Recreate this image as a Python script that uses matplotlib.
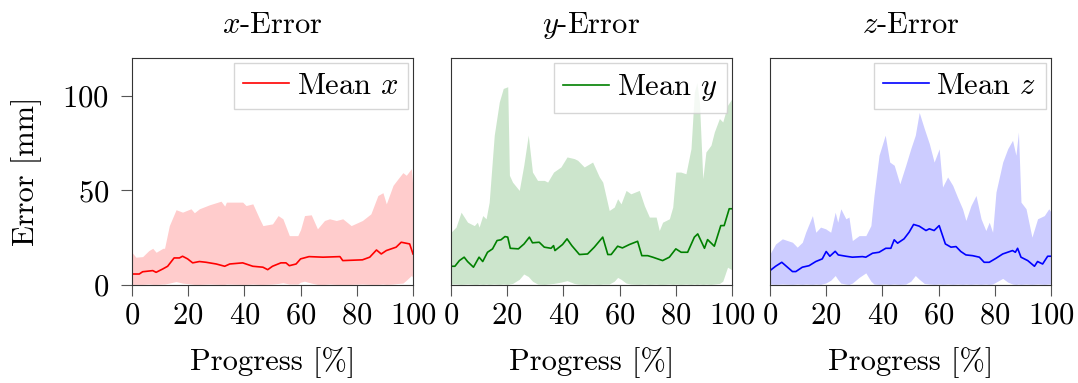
import numpy as np
import matplotlib
matplotlib.use("Agg")
import matplotlib.pyplot as plt

plt.rcParams['font.family'] = 'cmr10'
plt.rcParams['mathtext.fontset'] = 'cm'
plt.rcParams['axes.formatter.use_mathtext'] = True
plt.rcParams['axes.unicode_minus'] = False

# mean error per axis
mean_x_prog = [0, 2.6, 3.8, 7.4, 8.6, 11, 12.7, 15, 16.9, 18, 19.8, 21.6, 24, 26.4, 30, 33, 34.8, 39.4,
               43, 46.6, 48.3, 50, 53, 54.8, 56, 58.4, 60, 63, 68, 74, 75, 82, 84.6, 87, 88.7, 90.5,
               94, 95.8, 98.8, 100]
mean_x = [5.8, 5.8, 7.0, 7.6, 6.7, 8.5, 9.9, 14.3, 14.3, 15.2, 13.8, 11.7, 12.4, 12.0, 11.1, 9.9, 11.1, 11.7,
          9.9, 9.4, 8.1, 9.9, 11.7, 11.7, 10.2, 11.1, 13.8, 15.0, 14.7, 15.0, 12.9, 13.3, 14.7, 18.5, 16.4, 18.2,
          20.0, 22.6, 21.7, 16.4]

mean_y_prog = [0, 1.4, 3, 4.7, 5.9, 8, 10, 11.3, 13, 14.8, 16.4, 17.8, 19.2, 20.2, 21.1, 24, 26, 27.9, 29,
               31.4, 33.2, 35.6, 36.5, 37, 39.7, 41.3, 43, 45.7, 48.6, 51, 54, 55.8, 57, 59.3, 61, 63.5,
               66.4, 67.9, 70, 71.8, 75.3, 77.7, 80, 81.9, 84.2, 86.6, 87.8, 90.2, 91.3, 93.7, 96, 97.2,
               99, 100]
mean_y = [9.9, 9.9, 12.9, 14.7, 12.4, 9.4, 14.7, 12.4, 17.3, 19.1, 23.5, 23.9, 25.6, 25.3, 19.4, 19.1, 21.7,
          25.3, 22.3, 22.6, 20.0, 19.4, 20.8, 18.2, 21.4, 24.4, 20.8, 16.1, 16.4, 20.0, 25.3, 16.1, 16.1, 20.5,
          19.6, 21.4, 23.1, 15.5, 15.5, 14.7, 12.9, 14.7, 19.1, 17.3, 17.3, 25.3, 27.0, 19.4, 24.0, 20.5, 31.4,
          31.4, 40.3, 40.3]

mean_z_prog = [0, 2, 4.2, 5.6, 8, 9.2, 11.5, 13.9, 16.3, 18.6, 20, 21.3, 23.2, 24.3, 27, 29.3, 32.9, 34.1,
               36.5, 38.8, 41.2, 43, 44.2, 45.4, 47.7, 49.5, 51.1, 53.1, 55.5, 56.7, 58.4, 60.2, 62.4,
               64.4, 66.2, 67.9, 69.7, 72.1, 74.5, 76.2, 78, 80.4, 82.8, 86.3, 87.3, 88.1, 89.3, 91.7,
               94.1, 95.2, 97, 98.8, 100]
mean_z = [7.6, 9.9, 12.0, 10.2, 7.1, 7.1, 9.4, 10.2, 12.4, 13.8, 17.7, 15.2, 17.8, 15.9, 15.2, 14.7, 15.0, 14.7,
          16.8, 17.3, 19.4, 19.4, 23.9, 22.1, 24.4, 27.9, 32.0, 31.1, 28.8, 29.7, 28.8, 31.4, 21.7, 20.0, 20.3,
          17.7, 15.9, 15.5, 14.7, 12.0, 12.0, 14.1, 16.4, 18.2, 17.3, 19.4, 14.7, 12.9, 9.9, 12.4, 11.1, 15.2,
          15.2]

# spread band (min / max)
band_x_prog = [0, 1.4, 3.8, 6, 7.4, 8.6, 11, 11.6, 13.3, 15.7, 18, 21, 22.2, 24, 27.6, 31.7, 33, 33.6,
               39.4, 40.6, 43, 45.4, 46.6, 50, 52, 53.7, 56, 59, 60, 61.4, 63.8, 66, 68.5, 70.3, 72.7,
               75, 78, 82, 85, 87.5, 89.3, 90.5, 92.9, 94.7, 96.4, 97.6, 99.4, 100]
upper_x = [17.3, 14.7, 15.0, 18.2, 19.4, 17.3, 19.4, 19.4, 31.4, 39.8, 38.5, 40.3, 38.2, 40.3, 42.4, 44.3,
           41.7, 43.8, 43.8, 42.0, 42.9, 35.0, 31.4, 32.3, 36.7, 35.0, 26.1, 26.1, 29.3, 36.7, 37.1, 29.7,
           34.1, 35.0, 34.1, 35.0, 31.4, 34.1, 37.6, 47.3, 48.8, 42.9, 52.7, 56.2, 59.4, 58.0, 61.5, 50.9]
lower_x = [0.3, 0.3, 0.3, 0.5, 0.3, 0.3, 0.5, 0.5, 1.0, 1.8, 1.0, 0.5, 0.3, 0.3, 0.5, 0.3,
           0.3, 0.5, 0.3, 0.3, 0.5, 0.3, 0.3, 0.5, 0.8, 1.2, 0.5, 0.5, 1.5, 2.0, 1.0, 0.3,
           0.3, 0.5, 0.3, 0.3, 0.3, 0.5, 0.3, 0.3, 0.5, 0.3, 0.5, 0.8, 1.0, 2.5, 5.0, 4.0]

band_y_prog = [0, 1.8, 3.6, 5.9, 8.3, 9.4, 10, 11.3, 12.5, 13.6, 15.4, 17.2, 18.6, 20.2, 20.8, 21.9, 24.3,
               25.9, 27.5, 29, 30.8, 33.2, 34.4, 36.5, 39.1, 41.3, 43.9, 45.1, 47.4, 50.4, 52.8, 54,
               56.3, 58.1, 59.3, 60.5, 62.3, 64, 67, 68.8, 70.6, 73, 74.1, 75.3, 77.7, 78.9, 80, 81.8,
               83.6, 85.4, 86.6, 87.5, 88.4, 89.6, 90.7, 92.5, 93.7, 95.5, 96.7, 98.4, 100]
upper_y = [27.9, 30.6, 38.5, 33.2, 31.4, 33.2, 30.6, 36.7, 35.0, 43.8, 79.2, 96.8, 103.9, 104.8, 58.0, 54.4,
           50.0, 63.3, 79.2, 59.7, 55.3, 55.3, 54.4, 59.7, 62.4, 67.7, 66.8, 65.9, 62.4, 65.0, 57.1, 54.4,
           39.4, 41.2, 45.6, 42.9, 50.0, 48.2, 50.0, 42.0, 35.9, 35.9, 28.8, 33.2, 35.0, 41.2, 59.7, 59.7,
           58.8, 72.1, 102.0, 107.0, 96.8, 56.2, 70.3, 73.9, 80.9, 88.0, 86.2, 95.0, 98.6]
lower_y = [0.5, 0.5, 0.3, 0.5, 0.3, 0.3, 0.5, 0.3, 0.5, 0.3, 0.5, 0.3, 0.5, 0.3, 0.5, 0.8, 3.0,
           5.8, 4.5, 2.0, 0.5, 0.3, 0.5, 0.8, 1.5, 2.3, 0.8, 0.5, 0.3, 0.5, 0.3, 0.5,
           0.5, 2.0, 4.0, 3.0, 1.0, 0.5, 0.3, 0.5, 0.3, 0.5, 0.3, 0.3, 0.5, 0.3, 0.5, 0.3,
           0.5, 0.3, 0.5, 0.3, 0.5, 0.3, 0.5, 0.3, 0.5, 0.8, 2.0, 9.4, 8.0]

band_z_prog = [0, 2, 4.4, 8, 9.7, 11.5, 12.7, 15.1, 16.3, 18, 19.8, 21.6, 23.2, 24.1, 25.2, 27, 28.1, 29.3,
               31.7, 34.1, 35.9, 37, 38.8, 41, 42.6, 44.2, 46.2, 48.3, 50.1, 51.7, 53.1, 54.9, 56.7,
               58.4, 60.2, 61.4, 63.2, 65, 66.7, 68.5, 69.7, 71.5, 73.3, 75.1, 76.8, 78, 79.2, 80.4,
               82.8, 84.6, 86.3, 87.5, 88.4, 89.3, 91.1, 93.2, 95.2, 97.6, 99.2, 100]
upper_z = [16.4, 21.7, 24.4, 22.6, 20.0, 22.6, 27.9, 36.7, 27.9, 30.6, 29.7, 27.9, 38.5, 33.2, 40.3, 35.0,
           35.9, 23.5, 26.1, 26.1, 31.4, 47.3, 68.6, 79.2, 65.0, 63.3, 53.5, 63.3, 72.1, 79.2, 91.2, 82.7,
           74.7, 65.0, 72.0, 51.8, 57.1, 52.7, 46.5, 40.3, 34.1, 42.0, 47.3, 35.0, 28.8, 33.2, 27.9, 49.1,
           65.0, 72.1, 76.5, 68.6, 80.9, 43.8, 40.3, 25.3, 35.0, 36.7, 40.3, 38.5]
lower_z = [0.5, 0.3, 0.5, 0.3, 0.5, 0.3, 0.5, 0.3, 0.5, 0.3, 1.0, 2.5, 5.0, 3.0, 1.0, 0.5,
           0.3, 1.0, 4.0, 6.4, 2.0, 0.5, 0.3, 0.5, 0.3, 0.5, 0.3, 0.5, 2.0, 5.0, 3.0, 0.8,
           0.5, 0.3, 0.5, 0.3, 0.5, 0.3, 0.5, 0.3, 0.5, 0.3, 0.5, 0.3, 0.5, 0.3, 0.5, 1.5,
           3.5, 1.5, 0.5, 0.3, 0.5, 0.3, 0.5, 0.3, 0.5, 0.3, 0.5, 0.5]

titles = ['$x$-Error', '$y$-Error', '$z$-Error']
labels = ['Mean $x$', 'Mean $y$', 'Mean $z$']
colors = ['red', 'green', 'blue']

means = [(mean_x_prog, mean_x), (mean_y_prog, mean_y), (mean_z_prog, mean_z)]
bands = [(band_x_prog, lower_x, upper_x), (band_y_prog, lower_y, upper_y), (band_z_prog, lower_z, upper_z)]

fig, axes = plt.subplots(1, 3, figsize=(10.78, 3.83), dpi=100, sharey=True)
plt.subplots_adjust(left=0.1224, right=0.975, top=0.8486, bottom=0.2559, wspace=0.135)

for i, (ax, (mp, m), (bp, lo, hi), title, label, c) in enumerate(zip(axes, means, bands, titles, labels, colors)):
    ax.fill_between(bp, lo, hi, color=c, alpha=0.2, linewidth=0)
    ax.plot(mp, m, color=c, lw=1.2, label=label)
    ax.set_xlim(0, 100)
    ax.set_ylim(0, 120)
    ax.set_xticks([0, 20, 40, 60, 80, 100])
    ax.set_yticks([0, 50, 100])
    ax.tick_params(axis='x', labelsize=22, length=8, pad=4, color='#555555')
    ax.tick_params(axis='y', labelsize=22, length=8, pad=8.5, color='#555555')
    if i > 0:
        ax.tick_params(axis='y', left=False)
    for s in ax.spines.values():
        s.set_color('#333333')
    ax.set_title(title, fontsize=22, pad=18)
    ax.set_xlabel('Progress [%]', fontsize=22, labelpad=13)
    leg = ax.legend(loc='upper right', fontsize=22, fancybox=False, handlelength=1.5,
                    borderpad=0.3, handletextpad=0.25, borderaxespad=0.17)
    leg.get_frame().set_edgecolor('#cccccc')

axes[0].set_ylabel('Error [mm]', fontsize=22, labelpad=15)

plt.savefig('out.png', dpi=100)
